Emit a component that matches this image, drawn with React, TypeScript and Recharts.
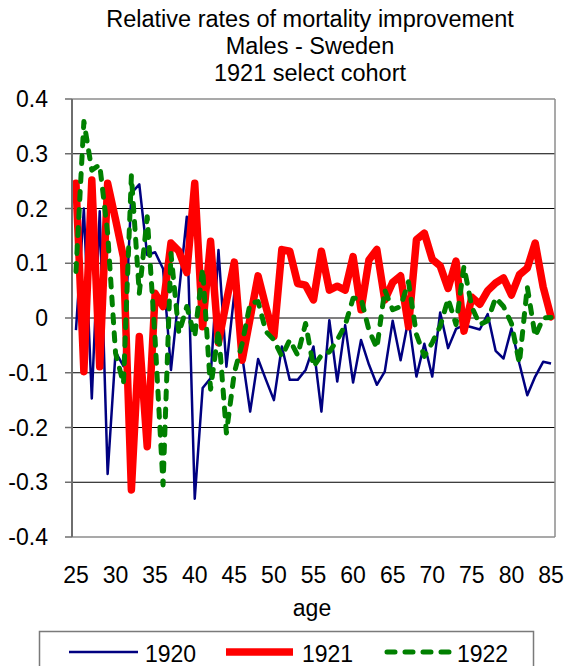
import React from 'react';
import { LineChart, Line, XAxis, YAxis, ReferenceLine } from 'recharts';

const ages = [25, 26, 27, 28, 29, 30, 31, 32, 33, 34, 35, 36, 37, 38, 39, 40, 41, 42, 43, 44, 45, 46, 47, 48, 49, 50, 51, 52, 53, 54, 55, 56, 57, 58, 59, 60, 61, 62, 63, 64, 65, 66, 67, 68, 69, 70, 71, 72, 73, 74, 75, 76, 77, 78, 79, 80, 81, 82, 83, 84, 85];

const series1920 = [-0.022, 0.2, -0.147, 0.195, -0.285, -0.062, -0.088, 0.228, 0.244, 0.115, 0.12, 0.09, -0.095, 0.045, 0.185, -0.33, -0.128, -0.11, 0.124, -0.089, 0.045, -0.07, -0.171, -0.075, -0.113, -0.15, -0.052, -0.113, -0.113, -0.095, -0.052, -0.171, -0.004, -0.116, -0.013, -0.118, -0.04, -0.085, -0.122, -0.098, -0.005, -0.077, -0.002, -0.107, -0.047, -0.107, 0.01, -0.055, -0.02, -0.013, -0.017, -0.021, 0.007, -0.06, -0.074, -0.019, -0.083, -0.141, -0.107, -0.08, -0.083];

const series1921 = [0.246, -0.098, 0.252, -0.089, 0.246, 0.18, 0.111, -0.314, -0.034, -0.235, 0.045, 0.021, 0.137, 0.122, 0.083, 0.246, -0.016, 0.14, -0.045, 0.03, 0.102, -0.077, 0.0, 0.077, 0.02, -0.034, 0.125, 0.122, 0.063, 0.06, 0.033, 0.122, 0.051, 0.058, 0.051, 0.112, 0.015, 0.106, 0.125, 0.033, 0.065, 0.077, -0.016, 0.143, 0.155, 0.107, 0.095, 0.054, 0.104, -0.024, 0.038, 0.025, 0.05, 0.064, 0.073, 0.042, 0.079, 0.091, 0.137, 0.057, 0.002];

const series1922 = [0.085, 0.359, 0.27, 0.28, 0.155, -0.064, -0.12, 0.26, 0.045, 0.185, -0.04, -0.305, 0.118, -0.028, 0.021, -0.034, 0.09, -0.13, -0.022, -0.21, -0.1, -0.046, 0.027, 0.03, -0.025, -0.04, -0.07, -0.04, -0.068, -0.01, -0.089, -0.068, -0.062, -0.04, -0.013, 0.036, 0.036, -0.022, -0.055, 0.051, 0.015, 0.021, 0.066, -0.03, -0.07, -0.045, -0.015, 0.035, -0.012, 0.094, 0.02, -0.012, -0.005, 0.037, 0.021, -0.01, -0.083, 0.057, -0.034, 0.0, 0.001];

const xTicks = [25, 30, 35, 40, 45, 50, 55, 60, 65, 70, 75, 80, 85];
const yTicks = [-0.4, -0.3, -0.2, -0.1, 0, 0.1, 0.2, 0.3, 0.4];
const gridValues = [-0.3, -0.2, -0.1, 0, 0.1, 0.2, 0.3];
const titleLines = ['Relative rates of mortality improvement', 'Males - Sweden', '1921 select cohort'];
const seriesNames = ['1920', '1921', '1922'];

const FONT = "'Liberation Sans', Arial, Helvetica, sans-serif";

const data = ages.map((age, i) => ({
  age,
  s1920: series1920[i],
  s1921: series1921[i],
  s1922: series1922[i],
}));

const fmtY = (v: number) => (Math.abs(v) < 1e-9 ? '0' : v.toFixed(1));

export default function App() {
  return (
    <div style={{ position: 'absolute', left: 0, top: 0, width: 568, height: 666, background: '#fff', overflow: 'hidden' }}>
      <LineChart
        width={568}
        height={666}
        data={data}
        margin={{ top: 99, right: 13, bottom: 89, left: 0 }}
      >
        {gridValues.map((g) => (
          <ReferenceLine key={g} y={g} stroke="#000" strokeWidth={1} ifOverflow="visible" />
        ))}
        <ReferenceLine y={0.4} stroke="#8c8c8c" strokeWidth={1.5} ifOverflow="visible" />
        <ReferenceLine x={85.5} stroke="#8c8c8c" strokeWidth={1.5} ifOverflow="visible" />
        <XAxis
          dataKey="age"
          type="number"
          domain={[24.5, 85.5]}
          ticks={xTicks}
          interval={0}
          height={40}
          tickLine={false}
          tickSize={6}
          tickMargin={24}
          axisLine={{ stroke: '#8c8c8c', strokeWidth: 1.5 }}
          tick={{ fontSize: 23, fill: '#000', fontFamily: FONT }}
        />
        <YAxis
          type="number"
          domain={[-0.4, 0.4]}
          ticks={yTicks}
          interval={0}
          width={72}
          tickSize={7}
          tickMargin={17}
          tickFormatter={fmtY}
          axisLine={{ stroke: '#6e6e6e', strokeWidth: 2 }}
          tickLine={{ stroke: '#6e6e6e', strokeWidth: 1.5 }}
          tick={{ fontSize: 23, fill: '#000', fontFamily: FONT }}
        />
        <Line
          dataKey="s1920"
          type="linear"
          stroke="#000080"
          strokeWidth={2.5}
          strokeLinejoin="round"
          dot={false}
          isAnimationActive={false}
        />
        <Line
          dataKey="s1921"
          type="linear"
          stroke="#ff0000"
          strokeWidth={7.5}
          strokeLinejoin="round"
          strokeLinecap="round"
          dot={false}
          isAnimationActive={false}
        />
        <Line
          dataKey="s1922"
          type="linear"
          stroke="#008000"
          strokeWidth={5}
          strokeDasharray="8 10"
          strokeLinecap="round"
          strokeLinejoin="round"
          dot={false}
          isAnimationActive={false}
        />
      </LineChart>
      <svg
        width={568}
        height={666}
        style={{ position: 'absolute', left: 0, top: 0, pointerEvents: 'none' }}
      >
        {titleLines.map((t, i) => (
          <text key={t} x={310} y={27 + i * 27} textAnchor="middle" fontSize={23.5} fontFamily={FONT} fill="#000">
            {t}
          </text>
        ))}
        <text x={312} y={616} textAnchor="middle" fontSize={23} fontFamily={FONT} fill="#000">
          age
        </text>
        <rect x={39.5} y={631.5} width={494} height={60} fill="none" stroke="#7a7a7a" strokeWidth={1.5} />
        <line x1={69} y1={652} x2={138} y2={652} stroke="#000080" strokeWidth={2.5} />
        <text x={145} y={662} fontSize={23} fontFamily={FONT} fill="#000">{seriesNames[0]}</text>
        <line x1={226} y1={652} x2={293} y2={652} stroke="#ff0000" strokeWidth={7.5} />
        <text x={302} y={662} fontSize={23} fontFamily={FONT} fill="#000">{seriesNames[1]}</text>
        <line x1={387} y1={652} x2={451} y2={652} stroke="#008000" strokeWidth={5} strokeDasharray="8 10" strokeLinecap="round" />
        <text x={457} y={662} fontSize={23} fontFamily={FONT} fill="#000">{seriesNames[2]}</text>
      </svg>
    </div>
  );
}
